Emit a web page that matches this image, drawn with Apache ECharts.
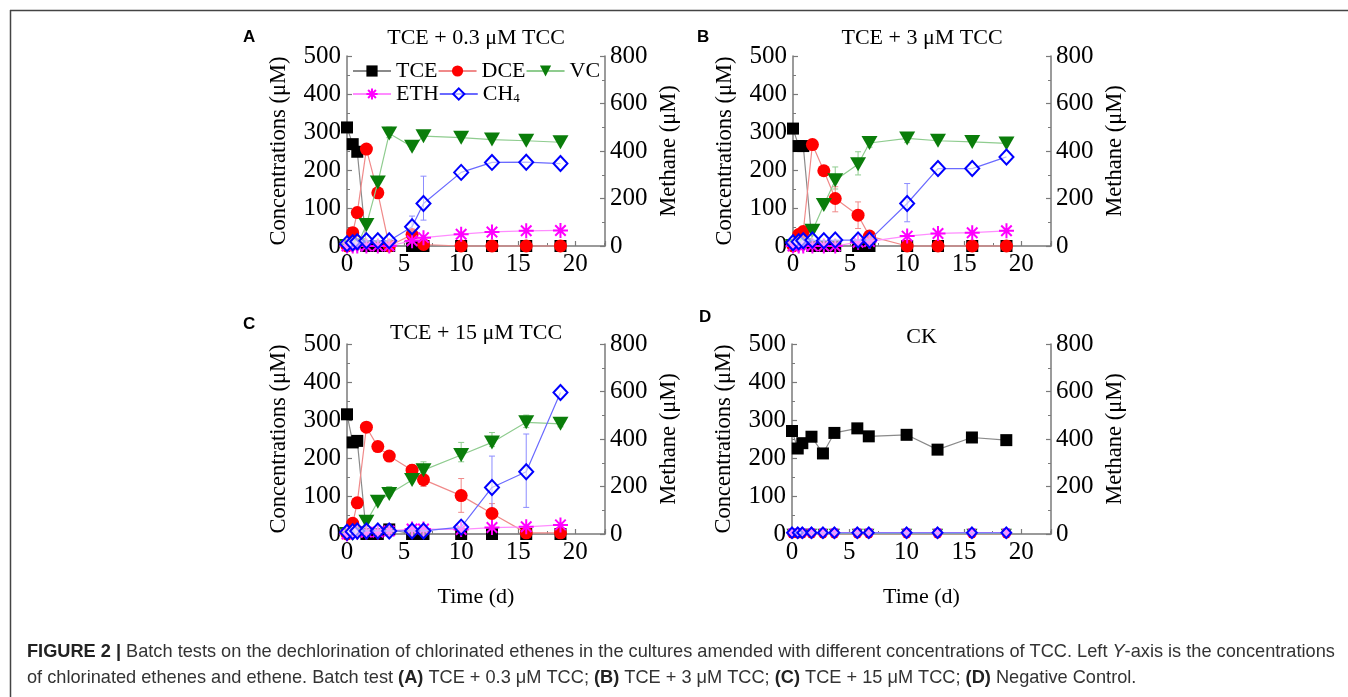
<!DOCTYPE html>
<html><head><meta charset="utf-8">
<script src="https://cdn.jsdelivr.net/npm/echarts@6/dist/echarts.min.js"></script>
<style>html,body{margin:0;padding:0;background:#fff}#c{width:1348px;height:697px}</style>
</head><body><div id="c"></div>
<script>
// ---- data ----
const times = [0, 0.5, 0.9, 1.7, 2.7, 3.7, 5.7, 6.7, 10, 12.7, 15.7, 18.7];
const xTickLabels = [0, 5, 10, 15, 20];
const leftTicks = [0, 100, 200, 300, 400, 500];
const rightTicks = [0, 200, 400, 600, 800];
const speciesNames = ['TCE', 'DCE', 'VC', 'ETH', 'CH4'];
const panelTitles = ['TCE + 0.3 μM TCC', 'TCE + 3 μM TCC', 'TCE + 15 μM TCC', 'CK'];
const panelLetters = ['A', 'B', 'C', 'D'];

// Panel A
const tceA = [312, 268, 248, 0, 0, 0, 0, 0, 0, 0, 0, 0];
const dceA = [0, 35, 88, 255, 140, 0, 30, 4, 0, 0, 0, 0];
const vcA  = [0, 0, 2, 55, 167, 296, 261, 289, 285, 280, 277, 273];
const ethA = [0, 0, 0, 0, 0, 0, 14, 22, 31, 37, 40, 41];
const ch4A = [10, 14, 18, 22, 22, 22, 81, 179, 310, 352, 353, 347];
const errA_vc  = [[3.7, 285, 313], [5.7, 255, 272]];
const errA_ch4 = [[5.7, 50, 126], [6.7, 109, 294]];
// Panel B
const tceB = [309, 263, 263, 0, 0, 0, 0, 0, 0, 0, 0, 0];
const dceB = [0, 30, 38, 267, 198, 125, 81, 26, 0, 0, 0, 0];
const vcB  = [0, 0, 2, 40, 108, 173, 215, 271, 283, 277, 274, 270];
const ethB = [0, 0, 0, 0, 0, 0, 10, 12, 26, 33, 35, 40];
const ch4B = [14, 18, 22, 25, 22, 25, 25, 25, 179, 326, 326, 375];
const errB_vc  = [[3.7, 150, 208], [5.7, 187, 248], [6.7, 260, 285], [10, 272, 296]];
const errB_dce = [[3.7, 90, 156], [5.7, 46, 116]];
const errB_ch4 = [[10, 102, 263]];
// Panel C
const tceC = [315, 241, 245, 0, 0, 12, 0, 0, 0, 0, 0, 0];
const dceC = [0, 28, 82, 281, 230, 205, 168, 143, 101, 54, 3, 3];
const vcC  = [0, 0, 2, 32, 85, 105, 142, 168, 208, 241, 294, 290];
const ethC = [0, 5, 5, 5, 5, 8, 13, 13, 12, 17, 19, 24];
const ch4C = [7, 10, 13, 13, 13, 13, 13, 13, 29, 196, 262, 596];
const errC_vc  = [[3.7, 100, 125], [6.7, 160, 190], [10, 190, 241], [12.7, 230, 267], [15.7, 280, 313], [18.7, 282, 300]];
const errC_dce = [[5.7, 150, 183], [6.7, 125, 150], [10, 57, 146], [12.7, 17, 80]];
const errC_ch4 = [[12.7, 66, 328], [15.7, 112, 421]];
// Panel D (negative control)
const tceD = [271, 225, 239, 256, 212, 266, 278, 257, 261, 222, 254, 247];
const dceD = [0, 0, 0, 0, 0, 0, 0, 0, 0, 0, 0, 0];
const vcD  = [1, 1, 1, 1, 1, 1, 1, 1, 1, 1, 1, 1];
const ethD = [4, 4, 4, 4, 4, 4, 4, 4, 4, 4, 4, 4];
const ch4D = [5, 5, 5, 5, 5, 5, 5, 5, 5, 5, 5, 5];

// ---- assemble ----
const panels = [
  {vals: [tceA, dceA, vcA, ethA, ch4A], err: {VC: errA_vc, CH4: errA_ch4}},
  {vals: [tceB, dceB, vcB, ethB, ch4B], err: {VC: errB_vc, DCE: errB_dce, CH4: errB_ch4}},
  {vals: [tceC, dceC, vcC, ethC, ch4C], err: {VC: errC_vc, DCE: errC_dce, CH4: errC_ch4}},
  {vals: [tceD, dceD, vcD, ethD, ch4D], err: {}, small: true}
];
const gridPos = [
  {left: 347, top: 56, width: 258, height: 190},
  {left: 793, top: 56, width: 258, height: 190},
  {left: 347, top: 344, width: 258, height: 190},
  {left: 792, top: 344, width: 259, height: 190}
];
const titleTops = [27, 27, 322, 326];
const SERIF = 'Liberation Serif';
const SANS = 'Liberation Sans';
const AX = '#7a7a7a';
const style = {
  TCE: {symbol: 'rect', size: 12, color: '#000000', line: '#8a8a8a', err: '#8a8a8a'},
  DCE: {symbol: 'circle', size: 13, color: '#ff0000', line: '#f08a8a', err: '#f08a8a'},
  VC:  {symbol: 'triangle', size: [16, 14], rotate: 180, color: '#0a7d0a', line: '#8fcc8f', err: '#8fcc8f'},
  ETH: {symbol: 'path://M5,0L5,10M0,5L10,5M1.5,1.5L8.5,8.5M1.5,8.5L8.5,1.5', size: 15, color: '#ff00ff', line: '#ff8cff', err: '#ff8cff'},
  CH4: {symbol: 'diamond', size: [14, 15], color: 'rgba(255,255,255,0.55)', border: '#0000ff', line: '#6a6aff', err: '#8c8cff'}
};

function errSeries(xi, yi, data, color) {
  return {
    type: 'custom', xAxisIndex: xi, yAxisIndex: yi, data: data, silent: true, z: 1,
    encode: {x: 0, y: [1, 2]},
    renderItem: function (params, api) {
      const x = api.value(0), lo = api.value(1), hi = api.value(2);
      const p1 = api.coord([x, lo]), p2 = api.coord([x, hi]);
      const w = 3;
      const st = {stroke: color, lineWidth: 1};
      return {type: 'group', children: [
        {type: 'line', shape: {x1: p1[0], y1: p1[1], x2: p2[0], y2: p2[1]}, style: st},
        {type: 'line', shape: {x1: p2[0] - w, y1: p2[1], x2: p2[0] + w, y2: p2[1]}, style: st},
        {type: 'line', shape: {x1: p1[0] - w, y1: p1[1], x2: p1[0] + w, y2: p1[1]}, style: st}
      ]};
    }
  };
}

const grids = [], xAxes = [], yAxes = [], series = [], titles = [], graphics = [];
panels.forEach(function (p, i) {
  grids.push(Object.assign({containLabel: false}, gridPos[i]));
  xAxes.push({
    type: 'value', gridIndex: i, min: 0, max: 22.6, interval: 5,
    name: i >= 2 ? 'Time (d)' : '', nameLocation: 'middle', nameGap: 52,
    nameTextStyle: {fontFamily: SERIF, fontSize: 22, color: '#000'},
    axisLine: {show: true, onZero: false, lineStyle: {color: AX, width: 1.5}},
    axisTick: {show: true, inside: true, length: 5, lineStyle: {color: AX, width: 1.2}},
    minorTick: {show: true, splitNumber: 2, length: 3, lineStyle: {color: AX}},
    splitLine: {show: false},
    axisLabel: {fontFamily: SERIF, fontSize: 25, color: '#000', margin: 6,
      formatter: function (v) { return xTickLabels.indexOf(v) >= 0 ? String(v) : ''; }}
  });
  yAxes.push({
    type: 'value', gridIndex: i, position: 'left', min: leftTicks[0], max: leftTicks[leftTicks.length - 1], interval: 100,
    name: 'Concentrations (μM)', nameLocation: 'middle', nameRotate: 90, nameGap: 56,
    nameTextStyle: {fontFamily: SERIF, fontSize: 22.5, color: '#000'},
    axisLine: {show: true, lineStyle: {color: AX, width: 1.5}},
    axisTick: {show: true, inside: true, length: 5, lineStyle: {color: AX, width: 1.2}},
    minorTick: {show: true, splitNumber: 2, length: 3, lineStyle: {color: AX}},
    splitLine: {show: false},
    axisLabel: {fontFamily: SERIF, fontSize: 25, color: '#000', margin: 6}
  });
  yAxes.push({
    type: 'value', gridIndex: i, position: 'right', min: rightTicks[0], max: rightTicks[rightTicks.length - 1], interval: 200,
    name: 'Methane (μM)', nameLocation: 'middle', nameRotate: 90, nameGap: 53,
    nameTextStyle: {fontFamily: SERIF, fontSize: 22.5, color: '#000'},
    axisLine: {show: true, lineStyle: {color: AX, width: 1.5}},
    axisTick: {show: true, inside: true, length: 5, lineStyle: {color: AX, width: 1.2}},
    minorTick: {show: true, splitNumber: 2, length: 3, lineStyle: {color: AX}},
    splitLine: {show: false},
    axisLabel: {fontFamily: SERIF, fontSize: 25, color: '#000', margin: 5}
  });
  // error bars (beneath markers)
  Object.keys(p.err).forEach(function (k) {
    const yi = k === 'CH4' ? 2 * i + 1 : 2 * i;
    series.push(errSeries(i, yi, p.err[k], style[k].err));
  });
  speciesNames.forEach(function (nm, k) {
    const s = style[nm];
    const yi = nm === 'CH4' ? 2 * i + 1 : 2 * i;
    const item = {color: s.color};
    if (nm === 'ETH') { item.borderColor = s.color; item.borderWidth = 2; }
    if (nm === 'CH4') { item.borderColor = s.border; item.borderWidth = 2; }
    let size = s.size;
    if (p.small && nm !== 'TCE') size = Array.isArray(size) ? [size[0] * 0.7, size[1] * 0.7] : size * 0.7;
    series.push({
      type: 'line', name: nm, xAxisIndex: i, yAxisIndex: yi,
      data: times.map(function (t, j) { return [t, p.vals[k][j]]; }),
      symbol: s.symbol, symbolSize: size, symbolRotate: s.rotate || 0,
      showAllSymbol: true, clip: false, z: 2 + k,
      itemStyle: item,
      lineStyle: {color: s.line, width: 1.2},
      emphasis: {disabled: true}
    });
  });
  const g = gridPos[i];
  titles.push({
    text: panelTitles[i], left: g.left + g.width / 2, top: titleTops[i], textAlign: 'center', padding: 0,
    textStyle: {fontFamily: SERIF, fontSize: 22, fontWeight: 'normal', color: '#000'}
  });
});

const letterPos = [[243, 29], [697, 29], [243, 316], [699, 309]];
letterPos.forEach(function (pp, i) {
  graphics.push({type: 'text', left: pp[0], top: pp[1],
    style: {text: panelLetters[i], font: 'bold 17px "Liberation Sans"', fill: '#000'}});
});
// frame lines
graphics.push({type: 'line', shape: {x1: 10, y1: 10.5, x2: 1348, y2: 10.5}, style: {stroke: '#444', lineWidth: 1.5}});
graphics.push({type: 'line', shape: {x1: 10.5, y1: 10, x2: 10.5, y2: 697}, style: {stroke: '#444', lineWidth: 1.5}});
// caption
const capRich = {
  b: {fontFamily: SANS, fontWeight: 'bold', fontSize: 18.2, fill: '#222', color: '#222'},
  i: {fontFamily: SANS, fontStyle: 'italic', fontSize: 18.2, fill: '#333', color: '#333'}
};
graphics.push({type: 'text', left: 27, top: 643, style: {
  text: '{b|FIGURE 2 |} Batch tests on the dechlorination of chlorinated ethenes in the cultures amended with different concentrations of TCC. Left {i|Y}-axis is the concentrations',
  font: '18.2px "Liberation Sans"', fill: '#333', rich: capRich}});
graphics.push({type: 'text', left: 27, top: 669, style: {
  text: 'of chlorinated ethenes and ethene. Batch test {b|(A)} TCE + 0.3 μM TCC; {b|(B)} TCE + 3 μM TCC; {b|(C)} TCE + 15 μM TCC; {b|(D)} Negative Control.',
  font: '18.2px "Liberation Sans"', fill: '#333', rich: capRich}});

const legendCommon = {
  left: 352, orient: 'horizontal', itemGap: 0, itemWidth: 38, itemHeight: 14, padding: 0,
  selectedMode: false,
  formatter: function (n) { return n === 'CH4' ? 'CH{s|4}' : n; },
  textStyle: {fontFamily: SERIF, fontSize: 22, color: '#000', padding: [0, 0, 0, 0],
    rich: {s: {fontFamily: SERIF, fontSize: 13, color: '#000', padding: [10, 0, 0, 0]}}}
};

const option = {
  animation: false,
  backgroundColor: '#fff',
  title: titles,
  grid: grids,
  xAxis: xAxes,
  yAxis: yAxes,
  legend: [
    Object.assign({}, legendCommon, {data: ['TCE', 'DCE', 'VC'], top: 60}),
    Object.assign({}, legendCommon, {data: ['ETH', 'CH4'], top: 83})
  ],
  series: series,
  graphic: graphics
};
const chart = echarts.init(document.getElementById('c'), null, {renderer: 'canvas'});
chart.setOption(option);
</script></body></html>
